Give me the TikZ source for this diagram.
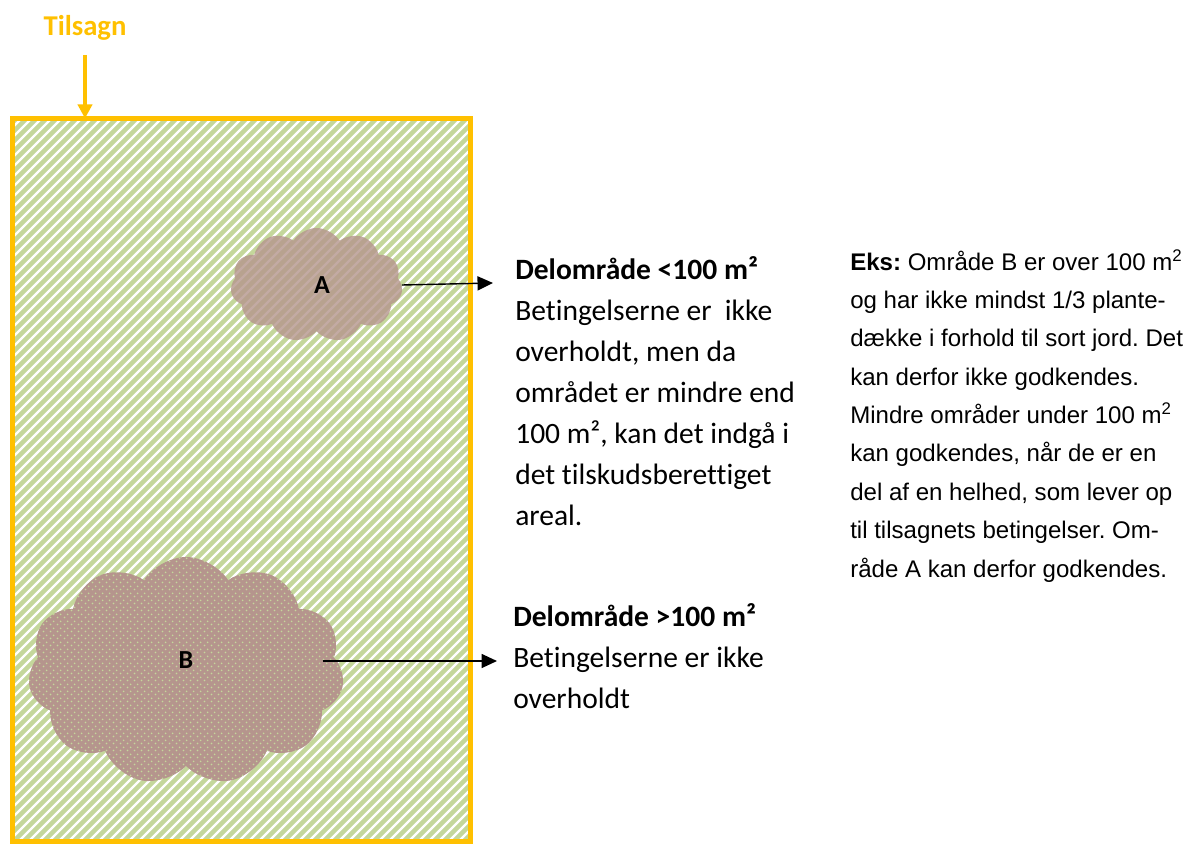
\documentclass[tikz,border=0pt]{standalone}
\usepackage{fontspec}
\newfontfamily\calibri[Ligatures=NoCommon]{Carlito}
\newfontfamily\arial{Liberation Sans}
\definecolor{fieldgreen}{RGB}{196, 215, 155}
\definecolor{tilsagnorange}{RGB}{255, 192, 0}
\definecolor{cloudbrown}{RGB}{181, 149, 141}
\usetikzlibrary{shapes.symbols, arrows.meta, patterns.meta}
\frenchspacing

\tikzdeclarepattern{
  name=leafdots,
  type=uncolored,
  bottom left={(0pt,0pt)},
  top right={(5pt,5pt)},
  tile size={(5pt,5pt)},
  code={
    \fill (1.25pt,1.25pt) circle (0.75pt);
    \fill (3.75pt,3.75pt) circle (0.75pt);
  }
}

\tikzset{
  area/.style={cloud, cloud puffs=11, cloud puff arc=115, inner sep=0pt,
    font=\calibri\bfseries\fontsize{18.5}{20}\selectfont},
  pointer/.style={-{Triangle[length=11pt, width=10pt]}, line width=1pt},
  calitext/.style={anchor=base west, align=flush left, inner sep=0pt, text width=9cm,
    font=\calibri\fontsize{21}{29.2}\selectfont},
  arialtext/.style={anchor=base west, align=flush left, inner sep=0pt, text width=10cm,
    font=\arial\fontsize{17.1}{27.3}\selectfont},
}

\begin{document}
\begin{tikzpicture}[x=0.025cm, y=-0.025cm]
\useasboundingbox (0,0) rectangle (1185,843);

% Tilsagn field
\node[minimum width=11.44cm, minimum height=18.06cm, anchor=north west, inner sep=0pt] (field) at (12.5,118.5) {};
\begin{scope}
  \clip (field.south west) rectangle (field.north east);
  \fill[fieldgreen] (field.south west) rectangle (field.north east);
  \foreach \k in {0,10,...,1400}
    \draw[white, line width=1.7pt] (\k,0) -- (\k-900,900);
\end{scope}

% Heading and its arrow
\node[font=\calibri\bfseries\fontsize{20.4}{24}\selectfont, text=tilsagnorange, inner sep=0pt] (tilsagn) at (85,28) {Tilsagn};
\draw[tilsagnorange, line width=3.5pt, -{Triangle[length=10pt, width=10pt]}, shorten <=10pt] (tilsagn.south) -- (tilsagn |- field.north);

% Areas
\node[area, fill=cloudbrown, fill opacity=0.8, text opacity=1, minimum width=4.3cm, minimum height=2.85cm] (A) at (316.5,285) {\hspace*{8pt}A};
\node[area, preaction={fill=cloudbrown}, pattern=leafdots, pattern color=fieldgreen, minimum width=7.9cm, minimum height=5.7cm] (B) at (186,671) {\raisebox{16pt}{B}};

% Border on top
\draw[tilsagnorange, line width=3.5pt] (field.south west) rectangle (field.north east);

% Pointers
\coordinate (Aend) at (493,283);
\coordinate (Bend) at (497,661);
\draw[pointer] (A.east) -- (Aend);
\draw[pointer] ([xshift=-14pt]B.east |- Bend) -- (Bend);

% Texts
\node[calitext] (small) at (515,279) {\textbf{Delområde <100 m²}\\
Betingelserne er\ \ ikke\\
overholdt, men da\\
området er mindre end\\
100 m², kan det indgå i\\
det tilskudsberettiget\\
areal.};

\node[calitext] (large) at (513,626) {\textbf{Delområde >100 m²}\\
Betingelserne er ikke\\
overholdt};

\node[arialtext] (eks) at (850,270) {\textbf{Eks:} Område B er over 100 m\textsuperscript{2}\\
og har ikke mindst 1/3 plante-\\
dække i forhold til sort jord. Det\\
kan derfor ikke godkendes.\\
Mindre områder under 100 m\textsuperscript{2}\\
kan godkendes, når de er en\\
del af en helhed, som lever op\\
til tilsagnets betingelser. Om-\\
råde A kan derfor godkendes.};
\end{tikzpicture}
\end{document}
